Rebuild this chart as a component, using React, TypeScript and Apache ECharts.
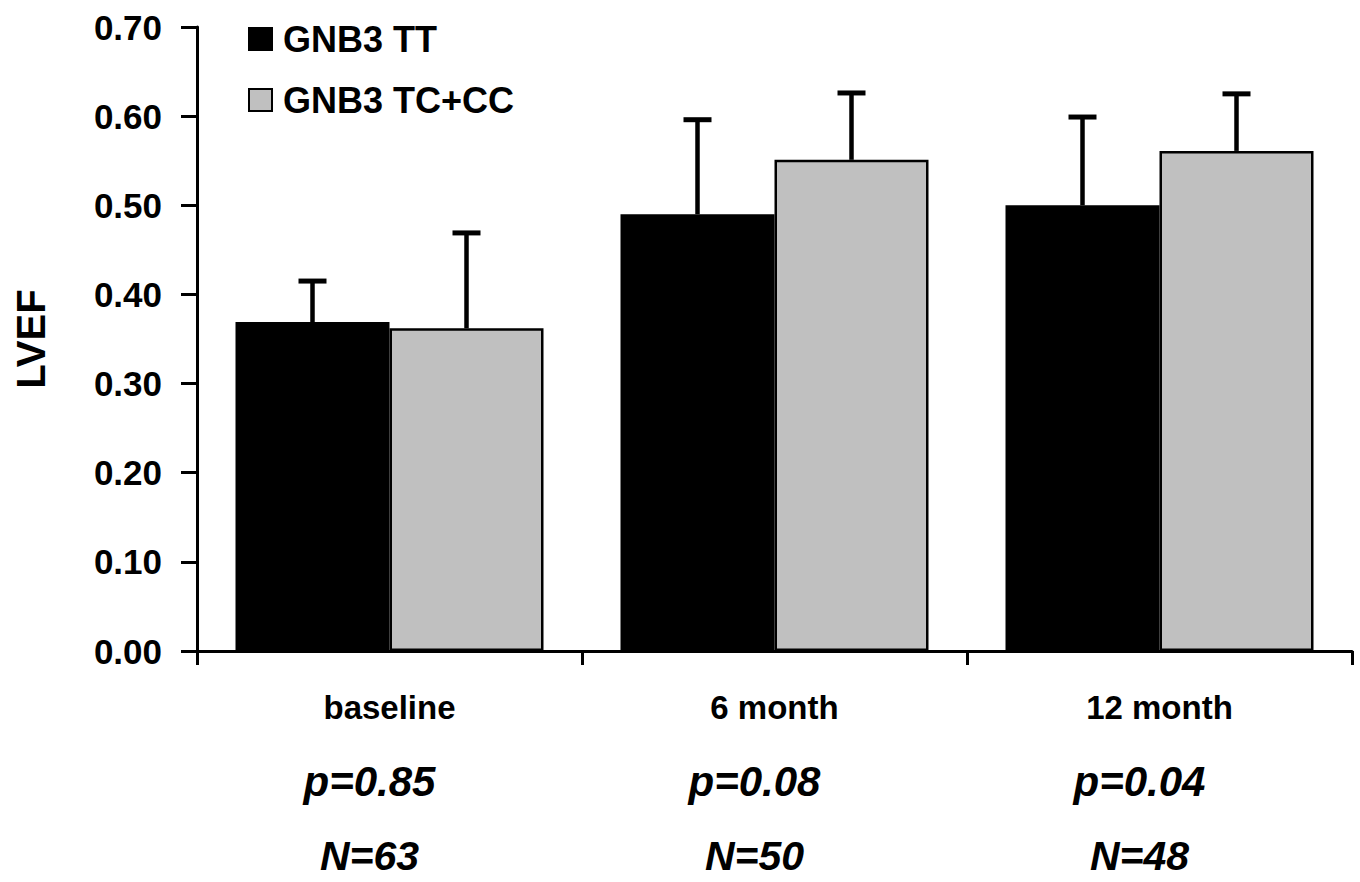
import React, { useEffect, useRef } from "react";
import * as echarts from "echarts";

const categories = ["baseline", "6 month", "12 month"];
const seriesNames = ["GNB3 TT", "GNB3 TC+CC"];
const ttMean = [0.369, 0.49, 0.5];
const ttUpper = [0.415, 0.596, 0.599];
const tcMean = [0.362, 0.551, 0.561];
const tcUpper = [0.469, 0.626, 0.625];
const pValues = ["p=0.85", "p=0.08", "p=0.04"];
const nValues = ["N=63", "N=50", "N=48"];

const FONT = "'Liberation Sans', Arial, Helvetica, sans-serif";

function errorSeries(name: string, means: number[], uppers: number[], offsetFrac: number) {
  return {
    type: "custom",
    name: name + " error",
    z: 5,
    encode: { x: 0, y: [1, 2] },
    data: means.map((m, i) => [i, m, uppers[i]]),
    renderItem: (params: any, api: any) => {
      const cat = api.value(0);
      const mean = api.value(1);
      const up = api.value(2);
      const base = api.coord([cat, mean]);
      const top = api.coord([cat, up]);
      const band = api.size([1, 0])[0];
      const x = base[0] + offsetFrac * band;
      return {
        type: "group",
        children: [
          {
            type: "line",
            shape: { x1: x, y1: base[1], x2: x, y2: top[1] },
            style: { stroke: "#000", lineWidth: 4.5 },
          },
          {
            type: "line",
            shape: { x1: x - 14, y1: top[1], x2: x + 14, y2: top[1] },
            style: { stroke: "#000", lineWidth: 5 },
          },
        ],
      };
    },
  };
}

export default function App() {
  const ref = useRef<HTMLDivElement>(null);
  useEffect(() => {
    document.body.style.margin = "0";
    if (!ref.current) return;
    const chart = echarts.init(ref.current, null, { renderer: "svg" });
    chart.setOption({
      animation: false,
      backgroundColor: "#fff",
      textStyle: { fontFamily: FONT },
      grid: { left: 197, right: 8, top: 27, bottom: 231, containLabel: false },
      legend: {
        data: seriesNames,
        orient: "vertical",
        left: 243,
        top: 16,
        itemWidth: 23,
        itemHeight: 22,
        itemGap: 25,
        icon: "rect",
        textStyle: {
          fontFamily: FONT,
          fontWeight: "bold",
          fontSize: 36,
          color: "#000",
          padding: [0, 0, 0, 6],
        },
      },
      xAxis: {
        type: "category",
        data: categories,
        axisLine: { lineStyle: { color: "#000", width: 3 } },
        axisTick: { show: true, length: 14, lineStyle: { color: "#000", width: 3 } },
        axisLabel: {
          margin: 44,
          interval: 0,
          formatter: (v: string, i: number) =>
            `{cat|${v}}\n{p|${pValues[i]}}\n{n|${nValues[i]}}`,
          rich: {
            cat: { fontFamily: FONT, fontWeight: "bold", fontSize: 33, color: "#000", lineHeight: 24 },
            p: {
              fontFamily: FONT,
              fontWeight: "bold",
              fontStyle: "italic",
              fontSize: 42,
              color: "#000",
              lineHeight: 124,
              padding: [0, 40, 0, 0],
            },
            n: {
              fontFamily: FONT,
              fontWeight: "bold",
              fontStyle: "italic",
              fontSize: 41,
              color: "#000",
              lineHeight: 26,
              padding: [0, 40, 0, 0],
            },
          },
        },
      },
      yAxis: {
        type: "value",
        min: 0,
        max: 0.7,
        interval: 0.1,
        name: "LVEF",
        nameLocation: "middle",
        nameRotate: 90,
        nameGap: 146,
        nameTextStyle: { fontFamily: FONT, fontWeight: "bold", fontSize: 40, color: "#000" },
        axisLine: { show: true, lineStyle: { color: "#000", width: 3 } },
        axisTick: { show: true, length: 16, lineStyle: { color: "#000", width: 3 } },
        splitLine: { show: false },
        axisLabel: {
          margin: 35,
          fontFamily: FONT,
          fontWeight: "bold",
          fontSize: 35,
          color: "#000",
          formatter: (v: number) => v.toFixed(2),
        },
      },
      series: [
        {
          type: "bar",
          name: seriesNames[0],
          data: ttMean,
          barCategoryGap: "20%",
          barGap: "0%",
          itemStyle: { color: "#000", borderColor: "#000", borderWidth: 2 },
        },
        {
          type: "bar",
          name: seriesNames[1],
          data: tcMean,
          barCategoryGap: "20%",
          barGap: "0%",
          itemStyle: { color: "#c0c0c0", borderColor: "#000", borderWidth: 2.5 },
        },
        errorSeries(seriesNames[0], ttMean, ttUpper, -0.2),
        errorSeries(seriesNames[1], tcMean, tcUpper, 0.2),
      ],
    });
    return () => chart.dispose();
  }, []);
  return <div ref={ref} style={{ width: 1360, height: 882 }} />;
}
